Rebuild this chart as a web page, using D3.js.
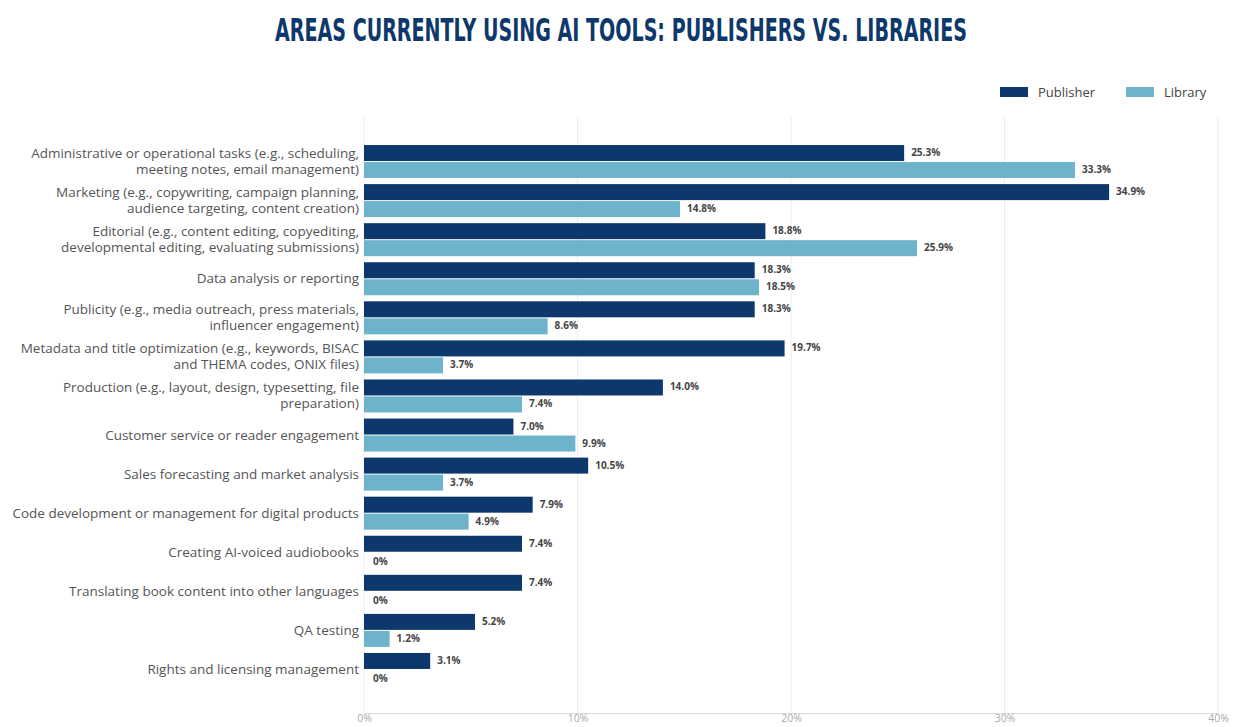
<!DOCTYPE html>
<html>
<head>
<meta charset="utf-8">
<script src="https://cdn.jsdelivr.net/npm/d3@7"></script>
<style>
  body { margin: 0; background: #fff; }
  svg { display: block; }
</style>
</head>
<body>
<svg id="chart" width="1233" height="727"></svg>
<script>
const categories = [
  ['Administrative or operational tasks (e.g., scheduling,', 'meeting notes, email management)'],
  ['Marketing (e.g., copywriting, campaign planning,', 'audience targeting, content creation)'],
  ['Editorial (e.g., content editing, copyediting,', 'developmental editing, evaluating submissions)'],
  ['Data analysis or reporting'],
  ['Publicity (e.g., media outreach, press materials,', 'influencer engagement)'],
  ['Metadata and title optimization (e.g., keywords, BISAC', 'and THEMA codes, ONIX files)'],
  ['Production (e.g., layout, design, typesetting, file', 'preparation)'],
  ['Customer service or reader engagement'],
  ['Sales forecasting and market analysis'],
  ['Code development or management for digital products'],
  ['Creating AI-voiced audiobooks'],
  ['Translating book content into other languages'],
  ['QA testing'],
  ['Rights and licensing management']
];
const publisher = [25.3, 34.9, 18.8, 18.3, 18.3, 19.7, 14.0, 7.0, 10.5, 7.9, 7.4, 7.4, 5.2, 3.1];
const library = [33.3, 14.8, 25.9, 18.5, 8.6, 3.7, 7.4, 9.9, 3.7, 4.9, 0, 0, 1.2, 0];
const seriesNames = ['Publisher', 'Library'];
const seriesColors = ['#0d386b', '#6eb3cc'];
const xTicks = [0, 10, 20, 30, 40];

const svg = d3.select('#chart');
const FONT = "'Open Sans', 'Noto Sans', sans-serif";

// Title
svg.append('text')
  .attr('x', 621).attr('y', 41)
  .attr('text-anchor', 'middle')
  .attr('font-family', "'Liberation Sans Narrow', 'DejaVu Sans Condensed', sans-serif")
  .attr('font-stretch', 'condensed')
  .attr('font-weight', 'bold')
  .attr('font-size', 32)
  .attr('fill', '#0d386b')
  .attr('textLength', 692)
  .attr('lengthAdjust', 'spacingAndGlyphs')
  .text('AREAS CURRENTLY USING AI TOOLS: PUBLISHERS VS. LIBRARIES');

// Legend
const legendX = [1000, 1126];
seriesNames.forEach((name, i) => {
  svg.append('rect')
    .attr('x', legendX[i]).attr('y', 87)
    .attr('width', 28).attr('height', 10)
    .attr('fill', seriesColors[i]);
  svg.append('text')
    .attr('x', legendX[i] + 38).attr('y', 97)
    .attr('font-family', FONT).attr('font-size', 13)
    .attr('fill', '#444')
    .text(name);
});

const x = d3.scaleLinear().domain([0, 40]).range([364, 1218]);
const y = d3.scaleBand().domain(d3.range(categories.length)).range([142, 689]);
const plotTop = 117, plotBottom = 713;

// Gridlines
svg.append('g')
  .selectAll('line')
  .data(xTicks.slice(1))
  .join('line')
  .attr('x1', d => x(d)).attr('x2', d => x(d))
  .attr('y1', plotTop).attr('y2', plotBottom)
  .attr('stroke', '#ececec');

// X axis
const xAxis = svg.append('g')
  .attr('transform', `translate(0,${plotBottom})`)
  .call(d3.axisBottom(x).tickValues(xTicks).tickFormat(d => d + '%').tickSize(0).tickPadding(2));
xAxis.select('.domain').attr('stroke', '#d9d9d9');
xAxis.selectAll('.tick text')
  .attr('font-family', FONT).attr('font-size', 10.5).attr('fill', '#aaa');

// Y axis line
svg.append('line')
  .attr('x1', x(0)).attr('x2', x(0))
  .attr('y1', plotTop).attr('y2', plotBottom)
  .attr('stroke', '#ececec');

// Bars
const barH = 16, gap = 1;
const data = [publisher, library];
data.forEach((vals, s) => {
  const g = svg.append('g');
  const yOff = d => y(d) + y.bandwidth() / 2 - barH - gap / 2 + s * (barH + gap);
  g.selectAll('rect')
    .data(vals.map((v, i) => ({ v, i })))
    .join('rect')
    .attr('x', x(0))
    .attr('y', d => yOff(d.i))
    .attr('width', d => x(d.v) - x(0))
    .attr('height', barH)
    .attr('fill', seriesColors[s]);
  g.selectAll('text')
    .data(vals.map((v, i) => ({ v, i })))
    .join('text')
    .attr('x', d => x(d.v) + (d.v === 0 ? 9 : 7))
    .attr('y', d => yOff(d.i) + (d.v === 0 ? 12 : 11))
    .attr('font-family', FONT).attr('font-size', 10).attr('font-weight', 'bold')
    .attr('fill', '#444')
    .text(d => d.v === 0 ? '0%' : d.v.toFixed(1) + '%');
});

// Category labels
const lab = svg.append('g');
categories.forEach((lines, i) => {
  const cy = y(i) + y.bandwidth() / 2;
  const t = lab.append('text')
    .attr('x', 359)
    .attr('text-anchor', 'end')
    .attr('font-family', FONT).attr('font-size', 13.5)
    .attr('fill', '#555');
  const lh = 16;
  const startY = cy - (lines.length - 1) * lh / 2 + 4.5;
  lines.forEach((ln, k) => {
    t.append('tspan').attr('x', 359).attr('y', startY + k * lh).text(ln);
  });
});
</script>
</body>
</html>
